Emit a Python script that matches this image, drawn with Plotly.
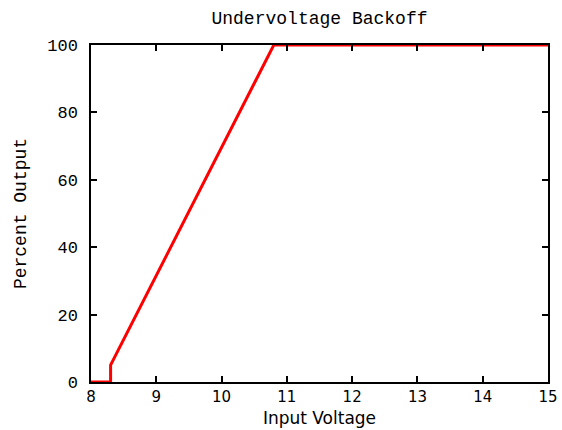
import plotly.graph_objects as go

voltage = [8.0, 8.3, 8.3, 10.8, 15.0]
percent = [0, 0, 5, 100, 100]
x_ticks = [8, 9, 10, 11, 12, 13, 14, 15]
y_ticks = [0, 20, 40, 60, 80, 100]

fig = go.Figure()
fig.add_trace(go.Scatter(x=voltage, y=percent, mode="lines",
                         line=dict(color="#ff0000", width=3), showlegend=False))

fig.update_layout(
    width=562, height=430,
    margin=dict(l=91, r=14, t=45, b=48),
    paper_bgcolor="white", plot_bgcolor="white",
    title=dict(text="Undervoltage Backoff", x=0.5, xref="paper", xanchor="center",
               y=0.958, yanchor="middle",
               font=dict(family="Liberation Mono", size=18, color="black")),
)
fig.update_xaxes(
    range=[8, 15], tickvals=x_ticks, ticktext=[str(v) for v in x_ticks],
    automargin=False, ticklabeloverflow="allow",
    showgrid=False, zeroline=False, showline=True, linecolor="black", linewidth=1.5,
    mirror="ticks", ticks="inside", ticklen=6, tickcolor="black", tickwidth=1.5,
    tickfont=dict(family="DejaVu Sans", size=15, color="black"),
    title=dict(text="Input Voltage", font=dict(family="DejaVu Sans", size=17, color="black"), standoff=7),
)
fig.update_yaxes(
    range=[0, 100], tickvals=y_ticks, ticktext=[str(v) for v in y_ticks],
    automargin=False, ticklabeloverflow="allow",
    showgrid=False, zeroline=False, showline=True, linecolor="black", linewidth=1.5,
    mirror="ticks", ticks="inside", ticklen=6, tickcolor="black", tickwidth=1.5,
    ticklabelstandoff=8,
    tickfont=dict(family="Liberation Mono", size=17, color="black"),
    title=dict(text="Percent Output", font=dict(family="Liberation Mono", size=18, color="black"), standoff=16),
)
fig.write_html("out.html", config={"displayModeBar": False},
               post_script="document.body.style.margin='0';")
